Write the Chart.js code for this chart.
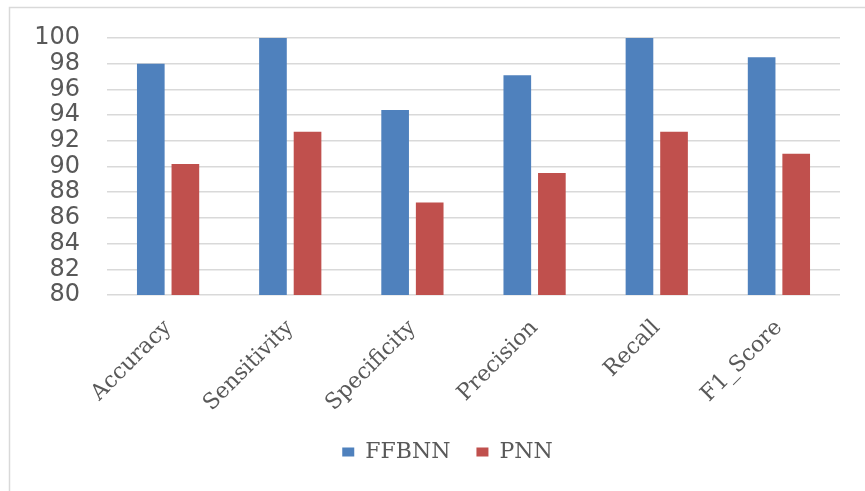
<!DOCTYPE html>
<html>
<head>
<meta charset="utf-8">
<script src="https://cdn.jsdelivr.net/npm/chart.js@4/dist/chart.umd.min.js"></script>
<style>
  html, body { margin: 0; padding: 0; background: #ffffff; }
  #wrap { width: 865px; height: 491px; position: relative; }
</style>
</head>
<body>
<div id="wrap"><canvas id="c" width="865" height="491"></canvas></div>
<script>
// Metric names on the category axis
const metrics = ['Accuracy', 'Sensitivity', 'Specificity', 'Precision', 'Recall', 'F1_Score'];
// Scores (%) for each classifier
const ffbnn = [98.0, 100.0, 94.4, 97.1, 100.0, 98.5];
const pnn = [90.2, 92.7, 87.2, 89.5, 92.7, 91.0];
// Value axis range and step
const yMin = 80;
const yMax = 100;
const yStep = 2;

const textGray = '#595959';
const lineGray = '#d9d9d9';

// Light frame along the top and left edges
const framePlugin = {
  id: 'frame',
  beforeDraw(chart) {
    const ctx = chart.ctx;
    ctx.save();
    ctx.fillStyle = '#ffffff';
    ctx.fillRect(0, 0, chart.width, chart.height);
    ctx.strokeStyle = lineGray;
    ctx.lineWidth = 1.5;
    ctx.beginPath();
    ctx.moveTo(9.5, chart.height);
    ctx.lineTo(9.5, 7.5);
    ctx.lineTo(chart.width, 7.5);
    ctx.stroke();
    ctx.restore();
  }
};

// Centre the legend a little left of the plot-area centre
const legendShift = {
  id: 'legendShift',
  afterLayout(chart) {
    const lg = chart.legend;
    if (!lg) return;
    const area = chart.chartArea;
    const dx = (area.left + area.right) / 2 - (lg.left + lg.right) / 2 - 26;
    lg.left += dx;
    lg.right += dx;
  }
};

new Chart(document.getElementById('c'), {
  type: 'bar',
  data: {
    labels: metrics,
    datasets: [
      { label: 'FFBNN', data: ffbnn, backgroundColor: '#4f81bd' },
      { label: 'PNN', data: pnn, backgroundColor: '#c0504d' }
    ]
  },
  options: {
    responsive: false,
    animation: false,
    devicePixelRatio: 1,
    datasets: {
      bar: { categoryPercentage: 0.566, barPercentage: 0.8 }
    },
    layout: { padding: { left: 12, right: 25, top: 38, bottom: 18 } },
    scales: {
      x: {
        grid: { display: false, drawTicks: false },
        border: { display: false },
        ticks: {
          minRotation: 45,
          maxRotation: 45,
          autoSkip: false,
          padding: 20,
          color: textGray,
          font: { family: '"DejaVu Serif", serif', size: 22 }
        },
        afterFit(scale) {
          scale.height = 120;
          scale.paddingLeft = 0;
          scale.paddingRight = 0;
        }
      },
      y: {
        min: yMin,
        max: yMax,
        grid: { color: lineGray, lineWidth: 1.5, drawTicks: false },
        border: { display: false },
        ticks: {
          stepSize: yStep,
          autoSkip: false,
          padding: 27,
          color: textGray,
          font: { family: '"DejaVu Sans", sans-serif', size: 24 }
        },
        afterFit(scale) {
          scale.width = 95;
          scale.paddingTop = 0;
          scale.paddingBottom = 0;
        }
      }
    },
    plugins: {
      tooltip: { enabled: false },
      legend: {
        position: 'bottom',
        labels: {
          boxWidth: 12,
          boxHeight: 9,
          padding: 26,
          color: textGray,
          font: { family: '"DejaVu Serif", serif', size: 22 }
        }
      }
    }
  },
  plugins: [framePlugin, legendShift]
});
</script>
</body>
</html>
